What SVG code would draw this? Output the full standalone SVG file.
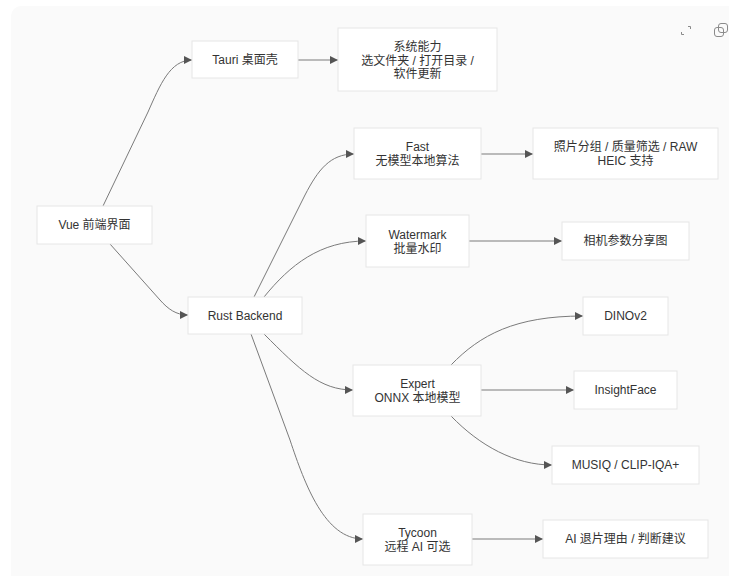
<svg xmlns="http://www.w3.org/2000/svg" width="729" height="576" viewBox="0 0 729 576">
<defs>
<marker id="arr" viewBox="0 0 10 10" refX="10" refY="5" markerWidth="8" markerHeight="8" markerUnits="userSpaceOnUse" orient="auto">
<path d="M0,0 L10,5 L0,10 z" fill="#555"/>
</marker>
<style>
.node rect{fill:#fff;stroke:#e6e6e6;stroke-width:1}
.node text{font-family:"Liberation Sans","Noto Sans CJK SC",sans-serif;font-size:12px;fill:#333;text-anchor:middle}
.edges path{fill:none;stroke:#7a7a7a;stroke-width:1;marker-end:url(#arr)}
.icon{fill:none;stroke:#8a8a8a;stroke-width:1}
</style>
</defs>
<rect x="0" y="0" width="729" height="576" fill="#fff"/>
<rect x="11" y="6" width="740" height="590" rx="10" fill="#fafafa"/>
<g id="icons">
<path class="icon" d="M688,26.5 H690.5 V29"/>
<path class="icon" d="M681.5,32 V34.5 H684"/>
<rect class="icon" x="714.5" y="27.5" width="9" height="9" rx="2.5"/>
<rect class="icon" x="718.5" y="23.5" width="9" height="9" rx="2.5" fill="#fafafa"/>
</g>
<g class="edges" id="edges">
<path d="M103,206 L148,112 C160,85 170,60 192,60"/>
<path d="M110,244 L160,300 C168,309 176,315 188,315"/>
<path d="M298,60 L338,60"/>
<path d="M254,297 L305,195 C318,170 330,154 354,154"/>
<path d="M264,297 C290,265 320,241 366,241"/>
<path d="M264,334 C300,370 320,390 353,390"/>
<path d="M251,334 L290,440 C305,485 325,539 363,539"/>
<path d="M481,154 L533,154"/>
<path d="M469,241 L562,241"/>
<path d="M451,365 C480,335 515,316 583,316"/>
<path d="M481,390 L574,390"/>
<path d="M451,416 C480,446 515,465 552,465"/>
<path d="M472,539 L543,539"/>
</g>
<g class="node" id="vue"><rect x="37" y="206" width="115" height="38"/><text x="94.5" y="229">Vue 前端界面</text></g>
<g class="node" id="tauri"><rect x="192" y="41" width="106" height="37"/><text x="245" y="64">Tauri 桌面壳</text></g>
<g class="node" id="sys"><rect x="338" y="28" width="159" height="63"/><text x="417.5" y="51">系统能力</text><text x="417.5" y="64.5">选文件夹 / 打开目录 /</text><text x="417.5" y="78">软件更新</text></g>
<g class="node" id="rust"><rect x="188" y="297" width="114" height="37"/><text x="245" y="319.5">Rust Backend</text></g>
<g class="node" id="fast"><rect x="354" y="128" width="127" height="51"/><text x="417.5" y="151">Fast</text><text x="417.5" y="164.5">无模型本地算法</text></g>
<g class="node" id="photo"><rect x="533" y="128" width="185" height="51"/><text x="625.5" y="151">照片分组 / 质量筛选 / RAW</text><text x="625.5" y="164.5">HEIC 支持</text></g>
<g class="node" id="watermark"><rect x="366" y="215" width="103" height="52"/><text x="417.5" y="239">Watermark</text><text x="417.5" y="252.5">批量水印</text></g>
<g class="node" id="camera"><rect x="562" y="222" width="127" height="38"/><text x="625.5" y="245">相机参数分享图</text></g>
<g class="node" id="expert"><rect x="353" y="365" width="128" height="51"/><text x="417.5" y="388">Expert</text><text x="417.5" y="401.5">ONNX 本地模型</text></g>
<g class="node" id="dino"><rect x="583" y="297" width="85" height="38"/><text x="625.5" y="320">DINOv2</text></g>
<g class="node" id="insight"><rect x="574" y="371" width="103" height="38"/><text x="625.5" y="394">InsightFace</text></g>
<g class="node" id="musiq"><rect x="552" y="446" width="147" height="38"/><text x="625.5" y="469">MUSIQ / CLIP-IQA+</text></g>
<g class="node" id="tycoon"><rect x="363" y="514" width="109" height="51"/><text x="417.5" y="537">Tycoon</text><text x="417.5" y="550.5">远程 AI 可选</text></g>
<g class="node" id="reason"><rect x="543" y="520" width="165" height="38"/><text x="625.5" y="543">AI 退片理由 / 判断建议</text></g>
</svg>
